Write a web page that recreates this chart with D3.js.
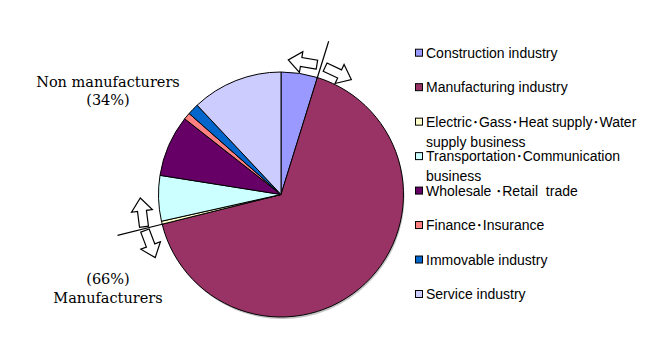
<!DOCTYPE html>
<html><head><meta charset="utf-8">
<script src="https://cdn.jsdelivr.net/npm/d3@7"></script>
<style>
html,body{margin:0;padding:0;background:#fff;}
svg{display:block;}
</style></head>
<body>
<svg id="chart" width="670" height="355"></svg>
<script>
// ---- data ----
const categories = [
  ["Construction industry"],
  ["Manufacturing industry"],
  ["Electric･Gass･Heat supply･Water", "supply business"],
  ["Transportation･Communication", "business"],
  ["Wholesale ･Retail  trade"],
  ["Finance･Insurance"],
  ["Immovable industry"],
  ["Service industry"]
];
const shares = [4.8, 66.3, 0.4, 6.0, 8.1, 0.9, 1.5, 12.0];
const colors = ["#9999FF", "#993366", "#FFFFCC", "#CCFFFF", "#660066", "#FF8080", "#0066CC", "#CCCCFF"];
const groupLabels = [["Non manufacturers", "(34%)"], ["(66%)", "Manufacturers"]];

// ---- layout ----
const svg = d3.select("#chart");
const cx = 281, cy = 194.5, R = 122.5;

const pie = d3.pie().sort(null).value(d => d)(shares);
const arc = d3.arc().innerRadius(0).outerRadius(R);

const g = svg.append("g").attr("transform", `translate(${cx},${cy})`);
// shadow
g.append("circle").attr("cx", 1).attr("cy", 2).attr("r", R).attr("fill", "#888").attr("opacity", 0.5);
g.selectAll("path.slice").data(pie).enter().append("path")
  .attr("class", "slice")
  .attr("d", arc)
  .attr("fill", (d, i) => colors[i])
  .attr("stroke", "#000").attr("stroke-width", 1).attr("stroke-linejoin", "round");

// boundaries: manufacturing start / end
const toDeg = a => a * 180 / Math.PI;
const b1 = pie[1].startAngle, b2 = pie[1].endAngle;
const pt = (a, r) => [r * Math.sin(a), -r * Math.cos(a)];

function divider(a, r0, r1) {
  const p0 = pt(a, r0), p1 = pt(a, r1);
  g.append("line").attr("x1", p0[0]).attr("y1", p0[1]).attr("x2", p1[0]).attr("y2", p1[1])
    .attr("stroke", "#000").attr("stroke-width", 1.2);
}
divider(b1, R - 1, R + 38);
divider(b2, R - 1, R + 46);

const arrowPath = "M-14.5,-4.5 L1.5,-4.5 L1.5,-10.5 L14.5,0 L1.5,10.5 L1.5,4.5 L-14.5,4.5 Z";
function arrow(a, r, cw) {
  const p = pt(a, r);
  const rot = toDeg(a) + (cw ? 0 : 180);
  g.append("path").attr("d", arrowPath)
    .attr("transform", `translate(${p[0]},${p[1]}) rotate(${rot})`)
    .attr("fill", "#fff").attr("stroke", "#000").attr("stroke-width", 1.2).attr("stroke-linejoin", "miter");
}
const d8 = 8 * Math.PI / 180, d67 = 6.7 * Math.PI / 180;
arrow(b1 - d8, 134, false);
arrow(b1 + d8, 134, true);
arrow(b2 + d67, 140, true);
arrow(b2 - d67, 140, false);

// group labels
const lab = svg.append("g").attr("font-family", "'DejaVu Serif', 'Liberation Serif', serif")
  .attr("font-size", 14.5).attr("fill", "#000").attr("text-anchor", "middle");
const labY = [[87, 105], [284, 303]];
groupLabels.forEach((lines, i) => {
  lines.forEach((t, j) => {
    lab.append("text").attr("x", 108).attr("y", labY[i][j]).text(t);
  });
});

// legend
const leg = svg.append("g").attr("font-family", "'Liberation Sans', Arial, 'Noto Sans CJK JP', sans-serif")
  .attr("font-size", 14).attr("fill", "#000");
const rowY = d3.scaleLinear().domain([0, 7]).range([52.7, 294]);
categories.forEach((lines, i) => {
  const y = rowY(i);
  leg.append("rect").attr("x", 415.5).attr("y", y - 3.5).attr("width", 7).attr("height", 7)
    .attr("fill", colors[i]).attr("stroke", "#000").attr("stroke-width", 1);
  lines.forEach((t, j) => {
    leg.append("text").attr("x", 426).attr("y", y + 5 + j * 20).style("white-space", "pre").text(t);
  });
});
</script>
</body></html>
